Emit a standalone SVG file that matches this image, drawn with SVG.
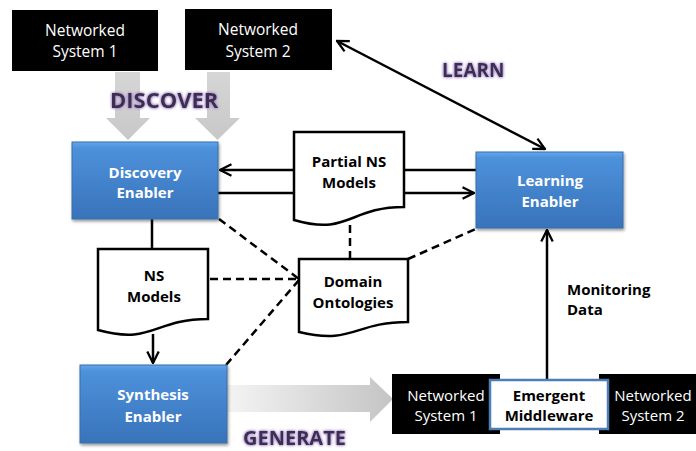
<svg xmlns="http://www.w3.org/2000/svg" width="696" height="451" viewBox="0 0 696 451">
<defs>
<style>
.ns{fill:#000}
.nst{font-family:"Open Sans","Liberation Sans",sans-serif;font-size:15.5px;fill:#fff;text-anchor:middle}
.nsb{font-size:15px}
.bt{font-family:"Open Sans","Liberation Sans",sans-serif;font-size:15px;font-weight:bold;text-anchor:middle}
.wt{fill:#fff}
.kt{fill:#000}
.blue{fill:url(#blueG);stroke:#3a6fa8;stroke-width:1}
.doc{fill:#fff;stroke:#000;stroke-width:2.5}
.solid{fill:none;stroke:#000;stroke-width:2.5}
.dash{fill:none;stroke:#000;stroke-width:2.5;stroke-dasharray:8 5}
.big{font-family:"Open Sans","Liberation Sans",sans-serif;font-weight:bold;fill:#3b2d4f;filter:url(#glow)}
</style>
<linearGradient id="blueG" x1="0" y1="0" x2="0" y2="1">
<stop offset="0" stop-color="#62a6ea"/>
<stop offset="0.08" stop-color="#4d91db"/>
<stop offset="1" stop-color="#3873ba"/>
</linearGradient>
<linearGradient id="grayV" x1="0" y1="0" x2="0" y2="1">
<stop offset="0" stop-color="#d6d6d6"/>
<stop offset="1" stop-color="#c8c8c8"/>
</linearGradient>
<linearGradient id="grayH" x1="0" y1="0" x2="1" y2="0">
<stop offset="0" stop-color="#f4f4f4"/>
<stop offset="1" stop-color="#c4c4c4"/>
</linearGradient>
<filter id="shadow" x="-10%" y="-10%" width="125%" height="130%">
<feDropShadow dx="1" dy="2" stdDeviation="1.5" flood-opacity="0.4"/>
</filter>
<filter id="glow" x="-10%" y="-25%" width="120%" height="140%">
<feGaussianBlur in="SourceAlpha" stdDeviation="1.4" result="b"/>
<feFlood flood-color="#a488c8" flood-opacity="1"/>
<feComposite in2="b" operator="in" result="g"/>
<feMerge><feMergeNode in="g"/><feMergeNode in="g"/><feMergeNode in="SourceGraphic"/></feMerge>
</filter>
<marker id="arr" viewBox="0 0 12 12" refX="11" refY="6" markerWidth="5.5" markerHeight="5.5" orient="auto-start-reverse" markerUnits="strokeWidth">
<path d="M1,1 L11,6 L1,11" fill="none" stroke="#000" stroke-width="2"/>
</marker>
</defs>
<rect width="696" height="451" fill="#fff"/>

<g id="big-arrows">
<polygon points="115,72 140,72 140,118 150,118 128,140 106,118 115,118" fill="url(#grayV)"/>
<polygon points="207,72 230,72 230,118 240,118 217.5,140 195,118 207,118" fill="url(#grayV)"/>
<polygon points="227,385 370,385 370,377 393,399 370,422 370,412 227,412" fill="url(#grayH)"/>
</g>

<g id="connectors">
<line class="solid" x1="293" y1="170" x2="220" y2="170" marker-end="url(#arr)"/>
<line class="solid" x1="404" y1="170" x2="476" y2="170"/>
<line class="solid" x1="218" y1="193" x2="294" y2="193"/>
<line class="solid" x1="404" y1="193" x2="474" y2="193" marker-end="url(#arr)"/>
<line class="solid" x1="152" y1="219" x2="152" y2="249"/>
<line class="solid" x1="153" y1="334" x2="153" y2="363" marker-end="url(#arr)"/>
<line class="solid" x1="547" y1="380" x2="547" y2="230" marker-end="url(#arr)"/>
<line class="solid" x1="337" y1="41" x2="545" y2="149" marker-start="url(#arr)" marker-end="url(#arr)"/>
<line class="dash" x1="219" y1="219" x2="299" y2="279"/>
<line class="dash" x1="210" y1="279" x2="299" y2="279"/>
<line class="dash" x1="299" y1="280" x2="226" y2="365"/>
<line class="dash" x1="350" y1="225" x2="350" y2="259"/>
<line class="dash" x1="408" y1="259" x2="478" y2="228"/>
</g>

<g id="ns1-top">
<rect class="ns" x="12" y="10" width="146" height="61"/>
<text class="nst" x="85" y="36">Networked</text>
<text class="nst" x="85" y="57">System 1</text>
</g>
<g id="ns2-top">
<rect class="ns" x="185" y="9" width="147" height="61"/>
<text class="nst" x="258" y="35">Networked</text>
<text class="nst" x="258" y="57">System 2</text>
</g>

<g id="discovery-enabler">
<rect class="blue" x="72" y="142" width="146" height="77" filter="url(#shadow)"/>
<text class="bt wt" x="145" y="178">Discovery</text>
<text class="bt wt" x="145" y="198">Enabler</text>
</g>
<g id="learning-enabler">
<rect class="blue" x="476" y="152" width="147" height="76" filter="url(#shadow)"/>
<text class="bt wt" x="550" y="186">Learning</text>
<text class="bt wt" x="550" y="207">Enabler</text>
</g>
<g id="synthesis-enabler">
<rect class="blue" x="80" y="365" width="147" height="78" filter="url(#shadow)"/>
<text class="bt wt" x="153" y="400">Synthesis</text>
<text class="bt wt" x="153" y="422">Enabler</text>
</g>

<g id="partial-ns-models">
<path class="doc" d="M294,132 H404 V207 C349,207 349,236 294,220 Z"/>
<text class="bt kt" x="349" y="167">Partial NS</text>
<text class="bt kt" x="349" y="188">Models</text>
</g>
<g id="ns-models">
<path class="doc" d="M98,249 H208 V319 C153,319 153,345 98,330 Z"/>
<text class="bt kt" x="154" y="281">NS</text>
<text class="bt kt" x="154" y="302">Models</text>
</g>
<g id="domain-ontologies">
<path class="doc" d="M299,259 H408 V322 C353.5,322 353.5,345 299,332 Z"/>
<text class="bt kt" x="353" y="287">Domain</text>
<text class="bt kt" x="353" y="308">Ontologies</text>
</g>

<g id="ns1-bottom">
<rect class="ns" x="392" y="374" width="108" height="60"/>
<text class="nst nsb" x="446" y="401">Networked</text>
<text class="nst nsb" x="446" y="421">System 1</text>
</g>
<g id="ns2-bottom">
<rect class="ns" x="599" y="374" width="97" height="60"/>
<text class="nst nsb" x="653" y="401">Networked</text>
<text class="nst nsb" x="653" y="421">System 2</text>
</g>
<g id="emergent-middleware">
<rect x="490" y="380" width="118" height="49" fill="#fff" stroke="#4f7db5" stroke-width="2.5"/>
<text class="bt kt" x="549" y="401">Emergent</text>
<text class="bt kt" x="549" y="421">Middleware</text>
</g>

<g id="labels">
<text class="bt kt" x="567" y="295" style="text-anchor:start">Monitoring</text>
<text class="bt kt" x="567" y="315" style="text-anchor:start">Data</text>
<text class="big" x="110" y="108" font-size="22">DISCOVER</text>
<text class="big" x="442" y="77" font-size="19">LEARN</text>
<text class="big" x="243" y="445" font-size="20">GENERATE</text>
</g>
</svg>
